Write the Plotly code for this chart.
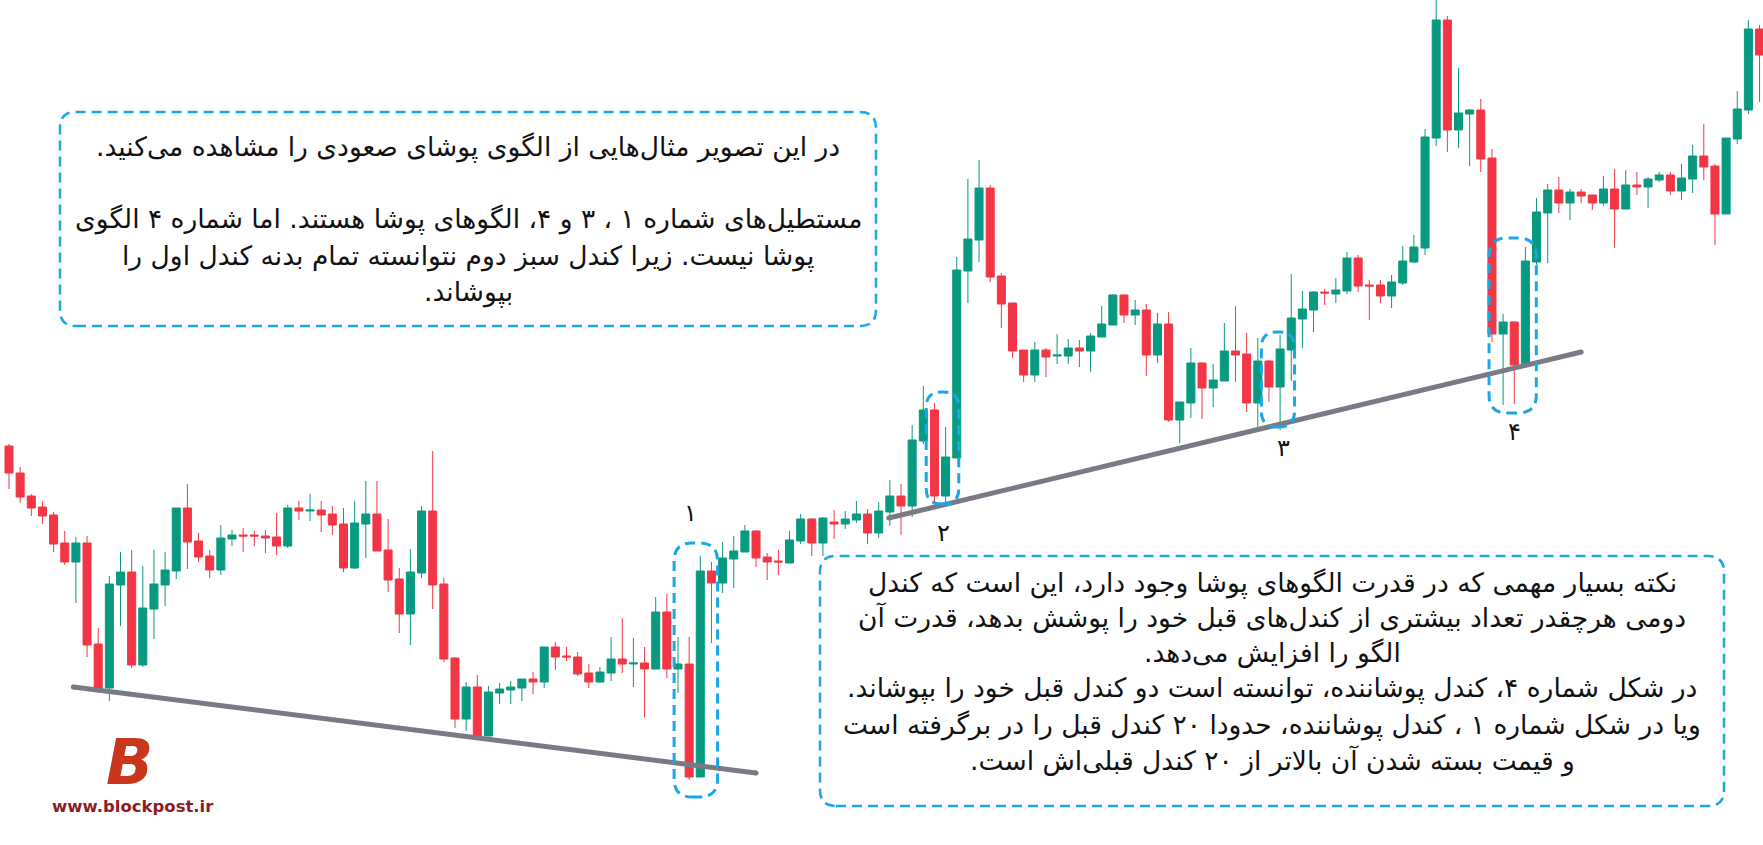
import plotly.graph_objects as go

# ---------------- data (price units) ----------------
opens = [399, 372, 349, 338, 330, 302, 283, 302, 201, 157, 260, 273, 180, 236, 260, 274, 337, 304, 289, 275,
         306, 310, 310, 309, 308, 299, 337, 334, 335, 331, 321, 277, 321, 331, 295, 266, 231, 272, 334, 261,
         187, 126, 158, 109, 152, 155, 157, 166, 163, 198, 189, 188, 172, 163, 172, 186, 181, 182, 176, 233,
         176, 181, 68, 274, 262, 286, 293, 314, 288, 284, 282, 304, 326, 302, 323, 321, 325, 331, 312, 333,
         349, 339, 404, 435, 349, 387, 574, 605, 657, 569, 542, 495, 470, 495, 489, 489, 497, 494, 508, 520,
         550, 530, 535, 490, 521, 425, 442, 482, 457, 464, 494, 491, 442, 484, 458, 495, 526, 535, 553, 551,
         554, 587, 560, 560, 549, 562, 583, 597, 707, 825, 715, 731, 735, 687, 511, 523, 480, 583, 632, 655,
         642, 653, 650, 642, 656, 636, 660, 658, 665, 670, 654, 666, 689, 679, 631, 706, 735, 816, 791]
highs = [401, 378, 351, 344, 333, 314, 308, 309, 217, 269, 293, 295, 279, 295, 293, 337, 361, 312, 295, 320,
         315, 317, 314, 315, 332, 340, 344, 351, 344, 339, 337, 344, 364, 364, 326, 277, 296, 339, 394, 267,
         188, 163, 170, 159, 162, 164, 166, 173, 198, 203, 198, 193, 181, 178, 208, 227, 207, 198, 248, 251,
         208, 208, 289, 283, 303, 309, 320, 315, 292, 295, 314, 331, 327, 328, 335, 334, 344, 336, 343, 365,
         361, 420, 459, 442, 418, 588, 666, 685, 660, 572, 542, 495, 503, 497, 511, 506, 505, 512, 539, 551,
         551, 545, 541, 532, 533, 443, 497, 483, 481, 522, 539, 512, 507, 485, 510, 571, 554, 554, 556, 567,
         593, 590, 565, 565, 570, 599, 610, 716, 850, 829, 777, 736, 746, 696, 531, 524, 598, 647, 661, 668,
         656, 656, 650, 669, 676, 675, 673, 668, 673, 673, 681, 700, 721, 681, 707, 754, 825, 820, 820]
lows = [356, 342, 329, 321, 293, 280, 242, 188, 152, 144, 219, 177, 178, 206, 239, 266, 276, 283, 267, 270,
        299, 293, 299, 292, 290, 297, 325, 324, 313, 310, 273, 276, 287, 294, 253, 212, 200, 267, 236, 183,
        117, 114, 107, 109, 141, 141, 144, 151, 157, 175, 184, 169, 157, 162, 164, 172, 158, 128, 176, 167,
        152, 65, 68, 202, 252, 257, 293, 278, 265, 270, 282, 301, 289, 289, 306, 316, 322, 301, 307, 319,
        310, 328, 401, 336, 341, 387, 542, 583, 563, 517, 487, 463, 463, 468, 481, 481, 478, 473, 508, 520,
        522, 520, 469, 482, 423, 402, 427, 426, 438, 464, 463, 433, 413, 443, 415, 464, 497, 513, 540, 542,
        551, 553, 525, 542, 537, 560, 582, 590, 699, 693, 697, 679, 673, 503, 440, 441, 480, 580, 582, 632,
        625, 642, 635, 639, 597, 636, 650, 637, 663, 650, 645, 652, 665, 600, 631, 701, 731, 743, 748]
closes = [372, 348, 337, 329, 301, 283, 302, 200, 157, 261, 273, 180, 237, 261, 275, 337, 303, 288, 275, 307,
          310, 309, 309, 307, 299, 337, 334, 335, 330, 320, 277, 322, 331, 294, 265, 231, 273, 334, 260, 186,
          126, 158, 109, 153, 156, 158, 166, 163, 198, 188, 188, 171, 163, 173, 186, 181, 182, 176, 233, 176,
          181, 68, 274, 262, 287, 294, 314, 287, 283, 283, 305, 326, 302, 327, 321, 326, 331, 312, 334, 349,
          339, 405, 435, 349, 388, 575, 606, 657, 568, 541, 494, 470, 495, 488, 490, 497, 494, 509, 521, 550,
          530, 535, 490, 521, 425, 443, 482, 457, 465, 494, 490, 442, 484, 458, 496, 527, 536, 553, 552, 555,
          587, 559, 559, 549, 563, 584, 598, 708, 825, 715, 732, 735, 686, 511, 523, 480, 584, 633, 655, 642,
          653, 649, 642, 656, 636, 660, 658, 666, 670, 654, 667, 689, 678, 631, 707, 736, 816, 790, 776]
candles = list(range(len(opens)))

pattern_labels = ["۱", "۲", "۳", "۴"]

box1_lines = [
    "در این تصویر مثال‌هایی از الگوی پوشای صعودی را مشاهده می‌کنید.",
    "مستطیل‌های شماره ۱ ، ۳ و ۴، الگوهای پوشا هستند. اما شماره ۴ الگوی",
    "پوشا نیست. زیرا کندل سبز دوم نتوانسته تمام بدنه کندل اول را",
    "بپوشاند.",
]
box2_lines = [
    "نکته بسیار مهمی که در قدرت الگوهای پوشا وجود دارد، این است که کندل",
    "دومی هرچقدر تعداد بیشتری از کندل‌های قبل خود را پوشش بدهد، قدرت آن",
    "الگو را افزایش می‌دهد.",
    "در شکل شماره ۴، کندل پوشاننده، توانسته است دو کندل قبل خود را بپوشاند.",
    "ویا در شکل شماره ۱ ، کندل پوشاننده، حدودا ۲۰ کندل قبل را در برگرفته است",
    "و قیمت بسته شدن آن بالاتر از ۲۰ کندل قبلی‌اش است.",
]

# ---------------- styling ----------------
W, H = 1763, 845
GREEN = "#089981"
RED = "#F23645"
GREY = "#787B86"
BLUE = "#1BA6E6"
FONT = "DejaVu Sans"
TEXT_SIZE = 26.5
X_PER_CANDLE = 11.15
X0_PX = 9.0
XR = [-X0_PX / X_PER_CANDLE, (W - X0_PX) / X_PER_CANDLE]

fig = go.Figure()
fig.add_trace(go.Candlestick(
    x=candles, open=opens, high=highs, low=lows, close=closes,
    increasing=dict(line=dict(color=GREEN, width=1), fillcolor=GREEN),
    decreasing=dict(line=dict(color=RED, width=1), fillcolor=RED),
    whiskerwidth=0, hoverinfo="skip", showlegend=False,
))

# support trend lines
trend_lines = [((5.77, 158), (67.0, 72)), ((78.9, 327), (141.0, 493))]
for (xa, ya), (xb, yb) in trend_lines:
    fig.add_trace(go.Scatter(x=[xa, xb], y=[ya, yb], mode="lines+markers",
                             line=dict(color=GREY, width=5),
                             marker=dict(color=GREY, size=5),
                             hoverinfo="skip", showlegend=False))


def rrect(x0, x1, y0, y1, rx, ry):
    return (f"M {x0 + rx},{y0} L {x1 - rx},{y0} Q {x1},{y0} {x1},{y0 + ry} "
            f"L {x1},{y1 - ry} Q {x1},{y1} {x1 - rx},{y1} L {x0 + rx},{y1} "
            f"Q {x0},{y1} {x0},{y1 - ry} L {x0},{y0 + ry} Q {x0},{y0} {x0 + rx},{y0} Z")


shapes = []
# dashed pattern boxes (data coordinates: candle index / price)
pattern_boxes = [(59.65, 63.55, 48, 302), (82.26, 85.18, 341, 453),
                 (112.32, 115.29, 418, 513), (132.74, 136.98, 432, 607)]
for x0, x1, y0, y1 in pattern_boxes:
    r_px = min(18, (x1 - x0) * X_PER_CANDLE / 2 - 1)
    shapes.append(dict(type="path", xref="x", yref="y",
                       path=rrect(x0, x1, y0, y1, r_px / X_PER_CANDLE, r_px),
                       line=dict(color=BLUE, width=3, dash="10px,6px"),
                       fillcolor="rgba(0,0,0,0)", layer="above"))


def px(x):
    return x / W


def py(y):
    return 1 - y / H


# text boxes (paper coordinates from pixel positions)
for (l, r, t, b) in [(60, 876, 112, 326), (820, 1724, 556, 806)]:
    rx, ry = 16 / W, 16 / H
    shapes.append(dict(type="path", xref="paper", yref="paper",
                       path=rrect(px(l), px(r), py(b), py(t), rx, ry),
                       line=dict(color=BLUE, width=2.5, dash="10px,6px"),
                       fillcolor="rgba(0,0,0,0)", layer="above"))

annotations = []
for txt, ypix in zip(box1_lines, [147, 219, 256, 292]):
    annotations.append(dict(x=px(468), y=py(ypix), xref="paper", yref="paper",
                            text=txt + "\u200f", showarrow=False, xanchor="center", yanchor="middle",
                            font=dict(family=FONT, size=TEXT_SIZE, color="#111111")))
for txt, ypix in zip(box2_lines, [583, 618, 653, 688, 725, 761]):
    annotations.append(dict(x=px(1272), y=py(ypix), xref="paper", yref="paper",
                            text=txt + "\u200f", showarrow=False, xanchor="center", yanchor="middle",
                            font=dict(family=FONT, size=TEXT_SIZE, color="#111111")))

label_pos = [(61.1, 332), (83.8, 312), (114.3, 397), (135.0, 413)]
for lab, (lx, ly) in zip(pattern_labels, label_pos):
    annotations.append(dict(x=lx, y=ly, xref="x", yref="y", text=lab, showarrow=False,
                            xanchor="center", yanchor="middle",
                            font=dict(family=FONT, size=24, color="#111111")))

# logo
annotations.append(dict(x=px(129), y=py(762), xref="paper", yref="paper", text="<b><i>B</i></b>",
                        showarrow=False, xanchor="center", yanchor="middle",
                        font=dict(family=FONT, size=62, color="#C8361C")))
annotations.append(dict(x=px(133), y=py(806), xref="paper", yref="paper", text="<b>www.blockpost.ir</b>",
                        showarrow=False, xanchor="center", yanchor="middle",
                        font=dict(family=FONT, size=16.5, color="#8E1B1F")))

fig.update_layout(
    width=W, height=H, margin=dict(l=0, r=0, t=0, b=0),
    paper_bgcolor="white", plot_bgcolor="white",
    xaxis=dict(visible=False, range=XR, rangeslider=dict(visible=False), fixedrange=True),
    yaxis=dict(visible=False, range=[0, H], fixedrange=True),
    boxgap=0.28, boxgroupgap=0,
    shapes=shapes, annotations=annotations, showlegend=False,
)

fig.write_html("out.html")
